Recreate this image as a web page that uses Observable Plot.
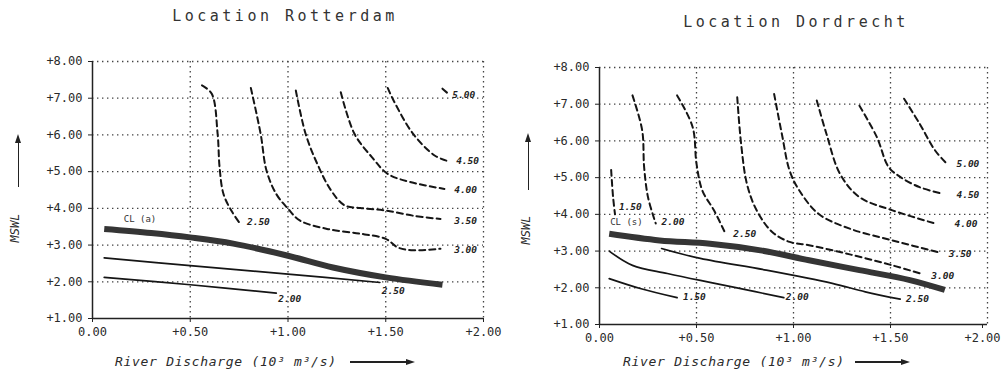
<!DOCTYPE html>
<html>
<head>
<meta charset="utf-8">
<script src="https://cdn.jsdelivr.net/npm/d3@7"></script>
<script src="https://cdn.jsdelivr.net/npm/@observablehq/plot@0.6"></script>
<style>
  html, body { margin: 0; padding: 0; background: #fff; }
  #root { position: relative; width: 1003px; height: 376px; overflow: hidden; background: #fff; font-family: "DejaVu Sans Mono", monospace; color: #2a2a2a; }
  .panel { position: absolute; top: 0; }
  .title { position: absolute; font-size: 15px; line-height: 15px; letter-spacing: 3.5px; transform: translateX(-50%); white-space: nowrap; color: #333; }
  .xlab { position: absolute; font-size: 13px; line-height: 13px; font-style: italic; letter-spacing: 0.7px; white-space: nowrap; color: #2a2a2a; }
  .ylab { position: absolute; font-size: 12px; line-height: 12px; font-style: italic; transform: translate(-50%, -50%) rotate(-90deg); white-space: nowrap; color: #2a2a2a; }
  .hline { position: absolute; height: 1.5px; background: #222; }
  .vline { position: absolute; width: 1.5px; background: #222; }
  .headR { position: absolute; width: 0; height: 0; border-top: 3px solid transparent; border-bottom: 3px solid transparent; border-left: 9px solid #222; }
  .headU { position: absolute; width: 0; height: 0; border-left: 3px solid transparent; border-right: 3px solid transparent; border-bottom: 9px solid #222; }
</style>
</head>
<body>
<div id="root"></div>
<script>
// ---------- axis ticks ----------
const xTicks = [0, 0.5, 1, 1.5, 2];
const yTicks = [1, 2, 3, 4, 5, 6, 7, 8];

// ---------- Location Rotterdam ----------
const rotDash250 = [[0.56,7.35],[0.61,7.12],[0.64,6.03],[0.65,5.12],[0.67,4.39],[0.71,3.94],[0.75,3.62]];
const rotDash300 = [[0.81,7.28],[0.86,6.03],[0.89,5.03],[0.94,4.39],[1.0,3.99],[1.06,3.67],[1.20,3.44],[1.37,3.31],[1.50,3.17],[1.56,2.94],[1.63,2.86],[1.78,2.90]];
const rotDash350 = [[1.04,7.21],[1.09,6.03],[1.15,5.21],[1.22,4.49],[1.29,4.08],[1.37,4.01],[1.50,3.94],[1.64,3.80],[1.78,3.71]];
const rotDash400 = [[1.27,7.16],[1.34,6.03],[1.43,5.39],[1.51,4.94],[1.63,4.71],[1.80,4.53]];
const rotDash450 = [[1.51,7.28],[1.54,6.94],[1.64,6.03],[1.75,5.44],[1.81,5.30]];
const rotDash500 = [[1.79,7.26],[1.82,7.12]];
const rotCL = [[0.06,3.44],[0.3,3.33],[0.5,3.21],[0.72,3.04],[1.0,2.71],[1.23,2.39],[1.5,2.12],[1.79,1.92]];
const rotSolid250 = [[0.06,2.65],[0.5,2.44],[1.0,2.21],[1.47,1.98]];
const rotSolid200 = [[0.06,2.12],[0.5,1.92],[0.94,1.69]];
const rotLabels = [
  {x:0.79, y:3.62, t:"2.50"}, {x:1.85, y:2.86, t:"3.00"}, {x:1.85, y:3.67, t:"3.50"},
  {x:1.85, y:4.49, t:"4.00"}, {x:1.86, y:5.28, t:"4.50"}, {x:1.84, y:7.10, t:"5.00"},
  {x:1.48, y:1.76, t:"2.50"}, {x:0.95, y:1.54, t:"2.00"}
];
const rotCLLabel = [{x:0.16, y:3.72, t:"CL (a)"}];

// ---------- Location Dordrecht ----------
const dorDash150 = [[0.06,5.21],[0.07,4.47],[0.08,4.00]];
const dorDash200 = [[0.17,7.24],[0.22,6.29],[0.23,5.29],[0.25,4.47],[0.29,3.75]];
const dorDash250 = [[0.40,7.24],[0.48,6.38],[0.50,5.38],[0.53,4.65],[0.59,4.11],[0.65,3.47]];
const dorDash300 = [[0.71,7.19],[0.73,5.92],[0.76,4.83],[0.81,4.11],[0.89,3.52],[0.98,3.25],[1.08,3.16],[1.29,2.91],[1.51,2.61],[1.66,2.38]];
const dorDash350 = [[0.90,7.28],[0.94,6.19],[0.98,5.19],[1.03,4.65],[1.13,4.01],[1.29,3.61],[1.51,3.29],[1.76,2.95]];
const dorDash400 = [[1.12,7.10],[1.17,6.19],[1.24,5.10],[1.34,4.47],[1.51,4.11],[1.73,3.75]];
const dorDash450 = [[1.34,6.96],[1.43,6.10],[1.49,5.29],[1.55,5.02],[1.65,4.74],[1.77,4.56]];
const dorDash500 = [[1.57,7.15],[1.65,6.47],[1.73,5.74],[1.79,5.38]];
const dorCL = [[0.05,3.47],[0.31,3.29],[0.57,3.20],[0.83,3.02],[1.08,2.75],[1.34,2.48],[1.60,2.21],[1.78,1.94]];
const dorSolid250 = [[0.32,3.07],[0.52,2.80],[0.86,2.48],[1.20,2.12],[1.37,1.89],[1.55,1.69]];
const dorSolid200 = [[0.05,3.00],[0.17,2.61],[0.35,2.39],[0.52,2.20],[0.69,2.02],[0.95,1.73]];
const dorSolid150 = [[0.05,2.25],[0.21,1.98],[0.40,1.73]];
const dorLabels = [
  {x:0.10, y:4.20, t:"1.50"}, {x:0.32, y:3.79, t:"2.00"}, {x:0.69, y:3.47, t:"2.50"},
  {x:1.71, y:2.33, t:"3.00"}, {x:1.80, y:2.93, t:"3.50"}, {x:1.83, y:3.74, t:"4.00"},
  {x:1.84, y:4.54, t:"4.50"}, {x:1.84, y:5.38, t:"5.00"},
  {x:0.43, y:1.75, t:"1.50"}, {x:0.96, y:1.75, t:"2.00"}, {x:1.58, y:1.70, t:"2.50"}
];
const dorCLLabel = [{x:0.055, y:3.79, t:"CL (s)"}];

// ---------- helpers ----------
const rows = (lines) => lines.flatMap((pts, i) => pts.map(([x, y]) => ({x, y, id: i})));
const fmtY = d => "+" + d.toFixed(2);
const fmtX = d => d === 0 ? "0.00" : "+" + d.toFixed(2);

function panel({width, margins, dashed, solid, cl, labels, clLabel, lastDx}) {
  const grid = {stroke: "#444", strokeWidth: 1.3, strokeDasharray: "1.4,3.6"};
  return Plot.plot({
    width, height: 376,
    marginLeft: margins[0], marginRight: margins[1], marginTop: margins[2], marginBottom: margins[3],
    x: {domain: [0, 2]},
    y: {domain: [1, 8]},
    style: {fontFamily: "DejaVu Sans Mono", fontSize: "12px", color: "#2a2a2a", background: "transparent", overflow: "visible"},
    marks: [
      Plot.ruleY(yTicks.slice(1), grid),
      Plot.ruleX(xTicks.slice(1), grid),
      Plot.ruleX([0], {stroke: "#222", strokeWidth: 1.5}),
      Plot.ruleY([1], {stroke: "#222", strokeWidth: 1.5}),
      Plot.axisY({ticks: yTicks, tickFormat: fmtY, tickSize: 4, tickPadding: 6, label: null, stroke: "#222"}),
      Plot.axisX({ticks: xTicks.slice(0, -1), tickFormat: fmtX, tickSize: 4, tickPadding: 5, label: null, stroke: "#222"}),
      Plot.axisX({ticks: xTicks.slice(-1), tickFormat: fmtX, tickSize: 4, tickPadding: 5, label: null, stroke: "#222", dx: lastDx}),
      Plot.line(rows(dashed), {x: "x", y: "y", z: "id", curve: "catmull-rom", stroke: "#151515", strokeWidth: 2, strokeDasharray: "6,4"}),
      Plot.line(rows(solid), {x: "x", y: "y", z: "id", curve: "catmull-rom", stroke: "#151515", strokeWidth: 1.7}),
      Plot.line(rows([cl]), {x: "x", y: "y", z: "id", curve: "catmull-rom", stroke: "#353535", strokeWidth: 6, strokeLinecap: "butt"}),
      Plot.text(labels, {x: "x", y: "y", text: "t", textAnchor: "start", fontStyle: "italic", fontWeight: "bold", fontSize: 9.5, fontFamily: "DejaVu Sans Mono", fill: "#222"}),
      Plot.text(clLabel, {x: "x", y: "y", text: "t", textAnchor: "start", fontSize: 9, fontFamily: "DejaVu Sans Mono", fill: "#333"})
    ]
  });
}

const root = document.getElementById("root");

const left = panel({
  width: 501, margins: [92, 18, 61, 58], lastDx: 0,
  dashed: [rotDash250, rotDash300, rotDash350, rotDash400, rotDash450, rotDash500],
  solid: [rotSolid250, rotSolid200], cl: rotCL, labels: rotLabels, clLabel: rotCLLabel
});
left.classList.add("panel"); left.style.left = "0px";
root.appendChild(left);

const right = panel({
  width: 502, margins: [98, 16, 67, 52], lastDx: -5,
  dashed: [dorDash150, dorDash200, dorDash250, dorDash300, dorDash350, dorDash400, dorDash450, dorDash500],
  solid: [dorSolid250, dorSolid200, dorSolid150], cl: dorCL, labels: dorLabels, clLabel: dorCLLabel
});
right.classList.add("panel"); right.style.left = "501px";
root.appendChild(right);

// ---------- titles, axis labels and arrows ----------
function el(cls, css, text) {
  const d = document.createElement("div");
  d.className = cls;
  Object.assign(d.style, css);
  if (text) d.textContent = text;
  root.appendChild(d);
}
el("title", {left: "285px", top: "9px"}, "Location Rotterdam");
el("title", {left: "796px", top: "15px"}, "Location Dordrecht");
el("xlab", {left: "115px", top: "355px"}, "River Discharge (10³ m³/s)");
el("xlab", {left: "623px", top: "355px"}, "River Discharge (10³ m³/s)");
el("ylab", {left: "15px", top: "228px"}, "MSWL");
el("ylab", {left: "526px", top: "230px"}, "MSWL");
// horizontal arrows
el("hline", {left: "350px", top: "361px", width: "58px"});
el("headR", {left: "406px", top: "358.7px"});
el("hline", {left: "855px", top: "361px", width: "48px"});
el("headR", {left: "901px", top: "358.7px"});
// vertical arrows
el("vline", {left: "17.5px", top: "142px", height: "45px"});
el("headU", {left: "15.2px", top: "134px"});
el("vline", {left: "527.5px", top: "141px", height: "49px"});
el("headU", {left: "525.2px", top: "133px"});
</script>
</body>
</html>
